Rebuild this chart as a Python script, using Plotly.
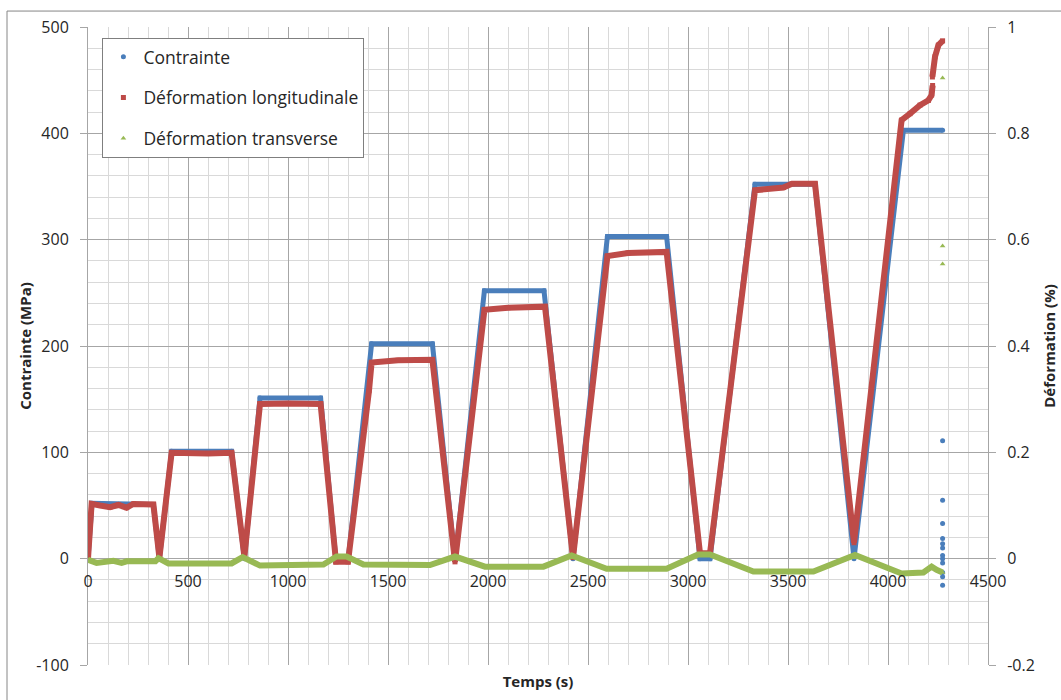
import plotly.graph_objs as go

### valeurs (sommets des courbes)
# contrainte (MPa) vs temps (s)
t_contrainte = [0, 20, 327, 357, 418, 718, 782, 860, 1163, 1240, 1300, 1418, 1722,
                1835, 1982, 2280, 2425, 2597, 2893, 3060, 3110, 3335, 3635, 3830,
                4077, 4273]
contrainte = [0, 52, 51, 0, 101, 101, 0, 151, 151, -2, -2, 202, 202,
              -2, 252, 252, 0, 303, 303, 0, 0, 352, 352, 0,
              403, 403]
# points dispersés à la rupture
t_rupture = [4273, 4273, 4273, 4273, 4273, 4273, 4273, 4273, 4273, 4273, 4273, 4273]
contrainte_rupture = [111, 55, 33, 19, 14, 10, 3, 0, -4, -13, -17, -25]

# déformation longitudinale (%)
t_long = [0, 18, 60, 110, 152, 193, 227, 327, 357, 418, 600, 718, 782, 860, 1000, 1163,
          1240, 1300, 1405, 1418, 1550, 1722, 1835, 1982, 2100, 2285, 2425, 2597, 2700,
          2893, 3060, 3110, 3335, 3477, 3520, 3635, 3830, 4068, 4110, 4160, 4202, 4218,
          4223, None, 4222, 4235, 4252, 4273]
def_long = [0, 0.103, 0.100, 0.097, 0.101, 0.096, 0.103, 0.102, 0.002, 0.199, 0.198, 0.199,
            0.004, 0.291, 0.292, 0.291, -0.006, -0.006, 0.316, 0.369, 0.373, 0.374, -0.006,
            0.468, 0.472, 0.474, 0.002, 0.569, 0.575, 0.577, 0.010, 0.010, 0.693, 0.698,
            0.705, 0.705, 0.030, 0.825, 0.837, 0.853, 0.862, 0.872, 0.890, None, 0.906,
            0.944, 0.966, 0.974]

# déformation transverse (%)
t_trans = [0, 43, 127, 168, 193, 337, 352, 402, 718, 773, 860, 1177, 1243, 1293, 1377,
           1710, 1835, 1985, 2277, 2418, 2593, 2893, 3050, 3110, 3327, 3627, 3835, 4068,
           4177, 4218, 4243, 4273]
def_trans = [-0.002, -0.008, -0.004, -0.008, -0.005, -0.005, 0.001, -0.009, -0.009, 0.003,
             -0.013, -0.011, 0.004, 0.004, -0.011, -0.012, 0.004, -0.015, -0.015, 0.006,
             -0.019, -0.019, 0.008, 0.008, -0.024, -0.024, 0.007, -0.028, -0.026, -0.015,
             -0.021, -0.026]
t_trans_rupture = [4273, 4273, 4273]
def_trans_rupture = [0.904, 0.588, 0.554]

# ticks
ytick_vals = [-100, 0, 100, 200, 300, 400, 500]
ytick_text = ['-100', '0', '100', '200', '300', '400', '500']
y2tick_vals = [-0.2, 0, 0.2, 0.4, 0.6, 0.8, 1]
y2tick_text = ['-0.2', '0', '0.2', '0.4', '0.6', '0.8', '1']

bleu = '#4a7ebb'
rouge = '#be4b48'
vert = '#98b954'
grille = '#a6a6a6'
grille_min = '#d9d9d9'
police = dict(family='Open Sans', size=16, color='#262626')
titre = dict(family='Open Sans', size=15, color='#262626')

### traces: une ligne (sans légende) + les points (avec légende) par série
s1 = go.Scatter(x=t_contrainte, y=contrainte, mode='lines', line=dict(color=bleu, width=5),
                legendgroup='a', showlegend=False)
s1m = go.Scatter(x=t_contrainte + t_rupture, y=contrainte + contrainte_rupture, mode='markers',
                 marker=dict(color=bleu, size=5, symbol='circle'),
                 name='Contrainte', legendgroup='a')
s2 = go.Scatter(x=t_long, y=def_long, yaxis='y2', mode='lines', line=dict(color=rouge, width=6),
                legendgroup='b', showlegend=False)
s2m = go.Scatter(x=t_long, y=def_long, yaxis='y2', mode='markers',
                 marker=dict(color=rouge, size=5, symbol='square'),
                 name='Déformation longitudinale', legendgroup='b')
s3 = go.Scatter(x=t_trans, y=def_trans, yaxis='y2', mode='lines', line=dict(color=vert, width=6),
                legendgroup='c', showlegend=False)
s3m = go.Scatter(x=t_trans + t_trans_rupture, y=def_trans + def_trans_rupture, yaxis='y2',
                 mode='markers', marker=dict(color=vert, size=5, symbol='triangle-up'),
                 name='Déformation transverse', legendgroup='c')

layout = go.Layout(
    width=1061, height=700,
    margin=dict(l=88, r=73, t=27, b=35, autoexpand=False),
    paper_bgcolor='white', plot_bgcolor='white',
    font=police,
    showlegend=True,
    legend=dict(x=0.016, y=0.983, xanchor='left', yanchor='top',
                bgcolor='white', bordercolor='#7f7f7f', borderwidth=1,
                traceorder='grouped', tracegroupgap=15,
                font=dict(family='Open Sans', size=17.5, color='#262626')),
    xaxis=dict(
        range=[0, 4500], dtick=500, tick0=0, automargin=False,
        anchor='free', position=1/6.,  # axe des x à y=0
        showgrid=True, gridcolor=grille, gridwidth=1,
        minor=dict(dtick=100, showgrid=True, gridcolor=grille_min),
        zeroline=False, showline=False, ticks='', ticklabelstandoff=11,
        title=dict(text='<b>Temps (s)</b>', standoff=85, font=titre),
    ),
    yaxis=dict(
        range=[-100, 500], tickvals=ytick_vals, ticktext=ytick_text, automargin=False,
        showgrid=True, gridcolor=grille, gridwidth=1,
        minor=dict(dtick=20, showgrid=True, gridcolor=grille_min),
        zeroline=False, showline=True, linecolor=grille, mirror=True,
        ticks='outside', ticklen=7, tickcolor=grille, ticklabelstandoff=8,
        title=dict(text='<b>Contrainte (MPa)</b>', standoff=0, font=titre),
    ),
    yaxis2=dict(
        range=[-0.2, 1], tickvals=y2tick_vals, ticktext=y2tick_text, automargin=False,
        overlaying='y', side='right', anchor='x',
        showgrid=False, zeroline=False,
        ticks='outside', ticklen=7, tickcolor=grille, ticklabelstandoff=8,
        title=dict(text='<b>Déformation (%)</b>', standoff=10, font=titre),
    ),
    shapes=[dict(type='rect', xref='paper', yref='paper',
                 x0=-0.09, x1=1.1, y0=-0.08, y1=1.025,
                 line=dict(color='#868686', width=1), layer='below')],
)

fig = go.Figure(data=[s1, s1m, s2, s2m, s3, s3m], layout=layout)
# pas de marge du navigateur autour du graphique, pas de barre d'outils
fig.write_html('out.html', config={'displayModeBar': False},
               post_script="document.body.style.margin='0px';")
